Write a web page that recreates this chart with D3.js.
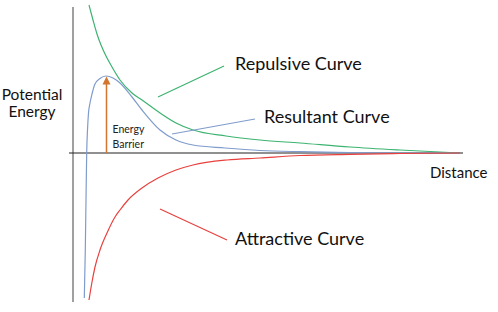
<!DOCTYPE html>
<html><head><meta charset="utf-8">
<script src="https://cdn.jsdelivr.net/npm/d3@7"></script>
<style>html,body{margin:0;padding:0;background:#fff;}svg{display:block;}</style>
</head><body>
<svg id="c" width="498" height="312"></svg>
<script>
// Data (distance units, energy units)
const repulsive = [[1.6,14.8],[2.0,13.3],[2.4,11.9],[2.8,10.8],[3.3,9.7],[3.9,8.6],[4.7,7.3],[5.9,6.0],[6.9,5.3],[8.7,4.0],[10.3,3.0],[12.0,2.3],[15.3,1.7],[18.7,1.3],[22.7,1.0],[27.7,0.6],[32.7,0.3],[38.7,0.0]];
const resultant = [[1.13,-14.5],[1.23,-9.7],[1.3,-4.7],[1.37,0],[1.45,2.3],[1.55,4.0],[1.7,5.0],[1.9,5.9],[2.2,6.9],[2.7,7.45],[3.3,7.7],[4.0,7.5],[4.7,7.0],[5.9,5.6],[6.9,4.3],[8.7,2.3],[10.3,1.3],[12.0,0.8],[15.2,0.5],[18.7,0.25],[22.7,0.13],[27.7,0.05],[32.7,0.0],[38.7,0.0]];
const attractive = [[1.6,-14.7],[1.9,-12.9],[2.2,-11.4],[2.7,-9.7],[3.4,-8.0],[4.2,-6.4],[4.7,-5.7],[5.5,-4.7],[6.9,-3.5],[8.5,-2.5],[10.3,-1.7],[12.0,-1.2],[15.4,-0.7],[18.7,-0.5],[22.7,-0.25],[27.7,-0.13],[32.7,-0.05],[38.7,0.0]];
const pointers = [[[8.5,5.6],[15.1,8.7]],[[9.9,1.9],[18.2,3.4]],[[8.7,-5.6],[15.4,-8.7]]];
const curveLabels = ["Repulsive Curve","Resultant Curve","Attractive Curve"];
const barrier = {x:3.35, top:7.65};
const barrierLabel = ["Energy","Barrier"];
const yTitle = ["Potential","Energy"];
const xTitle = "Distance";

const colors = ["#3cb371","#7f9ccc","#e8413e"];
const svg = d3.select("#c");
const x = d3.scaleLinear().domain([0,39]).range([73,463]);
const y = d3.scaleLinear().domain([-15,15]).range([303,3]);
const font = "Lato, 'Open Sans', sans-serif";

// axes
svg.append("line").attr("x1",x(0)).attr("x2",x(0)).attr("y1",y(14.6)).attr("y2",y(-14.9))
  .attr("stroke","#a0a0a0").attr("stroke-width",2);
svg.append("line").attr("x1",x(-0.4)).attr("x2",x(39)).attr("y1",y(0)).attr("y2",y(0))
  .attr("stroke","#222").attr("stroke-width",1.1);

const line = d3.line().x(d=>x(d[0])).y(d=>y(d[1])).curve(d3.curveMonotoneX);
[repulsive,resultant,attractive].forEach((s,i)=>{
  svg.append("path").attr("d",line(s)).attr("fill","none").attr("stroke",colors[i]).attr("stroke-width",1.2);
});
pointers.forEach((p,i)=>{
  svg.append("line").attr("x1",x(p[0][0])).attr("y1",y(p[0][1])).attr("x2",x(p[1][0])).attr("y2",y(p[1][1]))
    .attr("stroke",colors[i]).attr("stroke-width",1.2);
});

// energy barrier arrow
svg.append("line").attr("x1",x(barrier.x)).attr("x2",x(barrier.x)).attr("y1",y(0)).attr("y2",y(barrier.top)+6)
  .attr("stroke","#d2752e").attr("stroke-width",1.5);
const ax=x(barrier.x), ay=y(barrier.top);
svg.append("path").attr("d",`M${ax},${ay}L${ax-4},${ay+8}L${ax+4},${ay+8}Z`).attr("fill","#d2752e");

// labels
const labelPos = [[235,70],[264,123],[235,245]];
curveLabels.forEach((t,i)=>{
  svg.append("text").attr("x",labelPos[i][0]).attr("y",labelPos[i][1]).text(t)
    .attr("font-family",font).attr("font-size",18).attr("fill","#111");
});
svg.append("text").attr("x",430).attr("y",178).text(xTitle).attr("font-family",font).attr("font-size",15).attr("fill","#111");
yTitle.forEach((t,i)=>{
  svg.append("text").attr("x",32).attr("y",100 + i*17).attr("text-anchor","middle").text(t)
    .attr("font-family",font).attr("font-size",15.5).attr("fill","#111");
});
barrierLabel.forEach((t,i)=>{
  svg.append("text").attr("x",112.5).attr("y",133 + i*15).text(t)
    .attr("font-family",font).attr("font-size",10.5).attr("fill","#222");
});
</script>
</body></html>
